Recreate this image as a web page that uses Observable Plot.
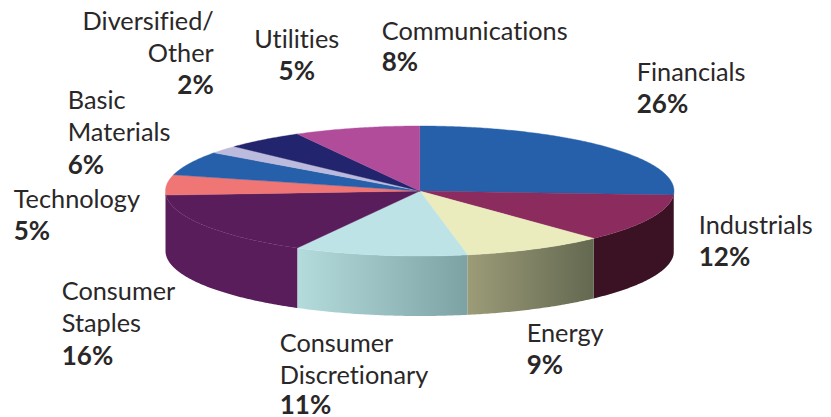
<!DOCTYPE html>
<html>
<head>
<meta charset="utf-8">
<script src="https://cdn.jsdelivr.net/npm/d3@7"></script>
<script src="https://cdn.jsdelivr.net/npm/@observablehq/plot@0.6"></script>
<style>html,body{margin:0;padding:0;background:#fff}svg{display:block}</style>
</head>
<body>
<div id="chart"></div>
<script>
const sectors = ["Financials","Industrials","Energy","Consumer Discretionary","Consumer Staples","Technology","Basic Materials","Diversified/Other","Utilities","Communications"];
const shares = [26,12,9,11,16,5,6,2,5,8];
const topColors = ["#2660aa","#8b2b5e","#ebecbe","#bee3e7","#5a1d5c","#f07575","#2660aa","#bdbbdd","#22246d","#b14c9b"];
const sideStart = ["#3a1224","#3a1224","#636850","#7da2a4","#5a1d5c","#5a1d5c","#000","#000","#000","#000"];
const sideEnd   = ["#3a1224","#3a1224","#9c9c78","#b5dcdc","#5a1d5c","#5a1d5c","#000","#000","#000","#000"];

// Label layout: offsets in px from the pie centre, one row per text line
const labelRows = [
  ["Financials",217,-118,"start",0],["26%",217,-86,"start",1],
  ["Industrials",279,35,"start",0],["12%",279,67,"start",1],
  ["Energy",107,143,"start",0],["9%",107,175,"start",1],
  ["Consumer",-140,153,"start",0],["Discretionary",-140,185,"start",0],["11%",-140,215,"start",1],
  ["Consumer",-358,101,"start",0],["Staples",-358,133,"start",0],["16%",-358,166,"start",1],
  ["Technology",-406,9,"start",0],["5%",-406,41,"start",1],
  ["Basic",-352,-90,"start",0],["Materials",-352,-58,"start",0],["6%",-352,-25,"start",1],
  ["Diversified/",-206,-169,"end",0],["Other",-206,-137,"end",0],["2%",-206,-105,"end",1],
  ["Utilities",-123,-151,"middle",0],["5%",-123,-119,"middle",1],
  ["Communications",-38,-159,"start",0],["8%",-38,-128,"start",1]
];

const depth = 60 / 65; // rim thickness in y-scale units
const cum = d3.cumsum(shares);
const total = d3.sum(shares);
const rad = s => (s / total) * 2 * Math.PI;
const rim = (a, drop = 0) => ({x: Math.sin(a), y: Math.cos(a) - drop});
const arc = (a0, a1) => {
  const n = Math.max(2, Math.ceil((a1 - a0) / 0.01));
  return d3.range(n + 1).map(i => a0 + (a1 - a0) * i / n);
};

const slices = sectors.map((name, i) => ({
  name, color: topColors[i], i,
  a0: rad(i ? cum[i - 1] : 0),
  a1: rad(cum[i])
}));

const wedge = s => [{x: 0, y: 0}, ...arc(s.a0, s.a1).map(a => rim(a)), {x: 0, y: 0}];
const side = s => {
  const a0 = Math.max(s.a0, Math.PI / 2), a1 = Math.min(s.a1, 3 * Math.PI / 2);
  if (a1 <= a0) return null;
  const as = arc(a0, a1);
  return [...as.map(a => rim(a)), ...as.slice().reverse().map(a => rim(a, depth))];
};

const gradients = () => {
  const defs = d3.create("svg:defs");
  slices.forEach(s => {
    const g = defs.append("linearGradient").attr("id", "side" + s.i);
    g.append("stop").attr("offset", "0%").attr("stop-color", sideEnd[s.i]);
    g.append("stop").attr("offset", "100%").attr("stop-color", sideStart[s.i]);
  });
  return defs.node();
};

const sideMarks = slices.filter(s => side(s)).map(s =>
  Plot.line(side(s), {x: "x", y: "y", fill: `url(#side${s.i})`, stroke: "none"}));
const topMarks = slices.map(s =>
  Plot.line(wedge(s), {x: "x", y: "y", fill: s.color, stroke: s.color, strokeWidth: 0.4, strokeLinejoin: "round"}));
const textMarks = labelRows.map(([t, dx, dy, anchor, bold]) =>
  Plot.text([t], {
    x: () => 0, y: () => 0, text: d => d, dx, dy,
    textAnchor: anchor, lineAnchor: "middle",
    fontSize: bold ? 26 : 25.3, fontWeight: bold ? 700 : 400, fill: "#2a2728"
  }));

const chart = Plot.plot({
  width: 831, height: 417,
  margin: 0,
  style: {fontFamily: "Lato", background: "#fff", fontVariantLigatures: "none"},
  x: {domain: [-1, 1], range: [165, 673.5], axis: null},
  y: {domain: [-1, 1], range: [255.5, 125.5], axis: null},
  marks: [gradients, ...sideMarks, ...topMarks, ...textMarks]
});
document.getElementById("chart").append(chart);
</script>
</body>
</html>
